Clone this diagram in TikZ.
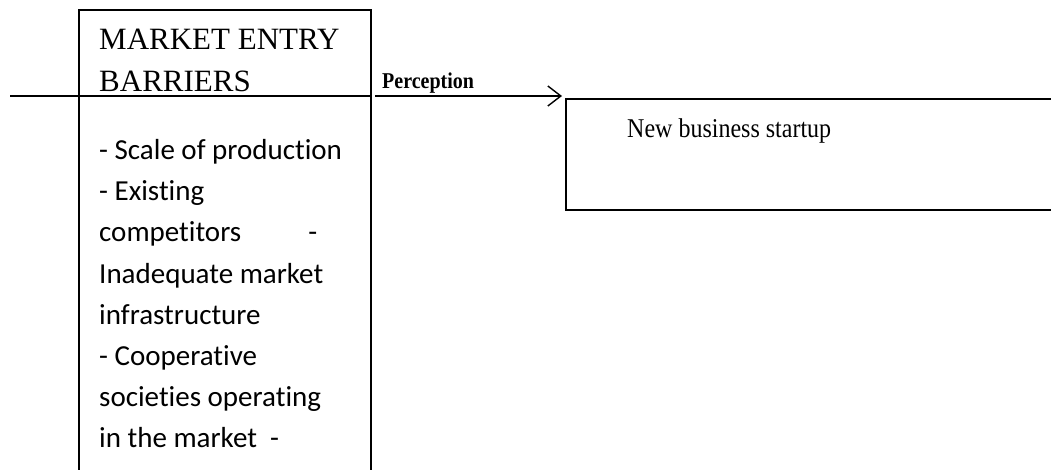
\documentclass[tikz,border=0pt]{standalone}
\usepackage{fontspec}
\usepackage{graphicx}
\setmainfont{Liberation Serif}
\newfontfamily\bodyfont[Ligatures=NoCommon]{Carlito}
\usetikzlibrary{arrows.meta}
\begin{document}
\begin{tikzpicture}[x=1pt,y=-1pt,
  box/.style={draw,line width=1.4pt},
  conn/.style={line width=1.4pt},
  title/.style={anchor=base west,inner sep=0pt,font=\fontsize{31}{42}\selectfont},
  body/.style={anchor=base west,inner sep=0pt,font=\bodyfont\fontsize{29}{41}\selectfont},
  lbl/.style={anchor=base west,inner sep=0pt,font=\bfseries\fontsize{20}{24}\selectfont},
  txt/.style={anchor=base west,inner sep=0pt,font=\fontsize{24}{28}\selectfont}]
\useasboundingbox (0,0) rectangle (1051,470);
\clip (0,0) rectangle (1051,470);
% boxes
\draw[box] (79,10) rectangle (371,490);
\coordinate (b1ne) at (371,96);
\draw[box] (566,99) rectangle (1070,210);
% texts box 1
\node[title] (t1) at (99,50) {MARKET ENTRY};
\node[title] (t2) at (99,92) {BARRIERS};
\node[body] (l1) at (99,160) {- Scale of production};
\node[body] (l2) at (99,201) {- Existing};
\node[body] (l3) at (99,242) {\makebox[218pt][l]{competitors\hfill-}};
\node[body] (l4) at (99,283) {Inadequate market};
\node[body] (l5) at (99,324) {infrastructure};
\node[body] (l6) at (99,365) {- Cooperative};
\node[body] (l7) at (99,406) {societies operating};
\node[body] (l8) at (99,447) {in the market\ \ -};
% box 2 text
\node[txt] (nb) at (627,138) {\scalebox{1}[1.13]{New business startup}};
% connectors
\coordinate (lstart) at (10,96);
\coordinate (astart) at (375,96);
\coordinate (aend) at (562,96);
\draw[conn] (lstart) -- (b1ne);
\draw[conn,-{Straight Barb[length=13pt,width=20pt,line width=1.4pt]}] (astart) -- (aend);
\node[lbl] (per) at (382,89) {\scalebox{1}[1.13]{Perception}};
\end{tikzpicture}
\end{document}
